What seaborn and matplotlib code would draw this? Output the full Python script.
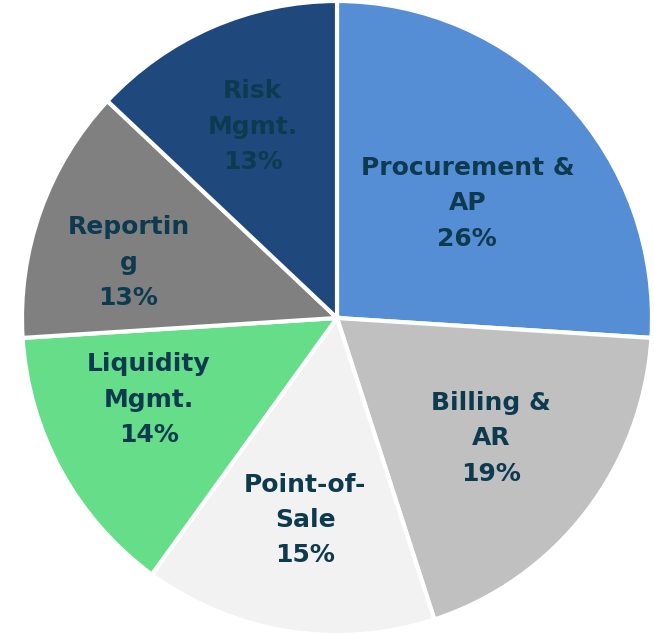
import matplotlib
matplotlib.use("Agg")
import matplotlib.pyplot as plt
import seaborn as sns
import numpy as np

sns.set_theme(style="white")
plt.rcParams["font.family"] = ["DejaVu Sans"]

# Donnees du graphique
categories = ["Procurement &\nAP", "Billing &\nAR", "Point-of-\nSale",
              "Liquidity\nMgmt.", "Reportin\ng", "Risk\nMgmt."]
shares = [26, 19, 15, 14, 13, 13]
colors = ["#558ED5", "#C0C0C0", "#F2F2F2", "#66DD88", "#808080", "#1F497D"]

# placement des etiquettes : distance relative et decalage angulaire (deg)
label_r = [0.55, 0.62, 0.645, 0.65, 0.685, 0.66]
label_dang = [-2, 0, 0, -5.5, 5, 0.5]
text_color = "#0E3A50"

fig = plt.figure(figsize=(6.54, 6.37), dpi=100)
ax = fig.add_axes([22 / 654, 2 / 637, 630 / 654, 634 / 637])

wedges, _ = ax.pie(shares, colors=colors, startangle=90, counterclock=False,
                   wedgeprops=dict(edgecolor="white", linewidth=3))

for w, lab, val, r, da in zip(wedges, categories, shares, label_r, label_dang):
    ang = np.deg2rad((w.theta1 + w.theta2) / 2 + da)
    ax.text(r * np.cos(ang), r * np.sin(ang), f"{lab}\n{val}%",
            ha="center", va="center", fontsize=18, fontweight="bold",
            color=text_color, linespacing=1.6)

ax.set_aspect("auto")
ax.set_xlim(-1.0, 1.0)
ax.set_ylim(-1.0, 1.0)
ax.axis("off")

fig.savefig("out.png", dpi=100)
